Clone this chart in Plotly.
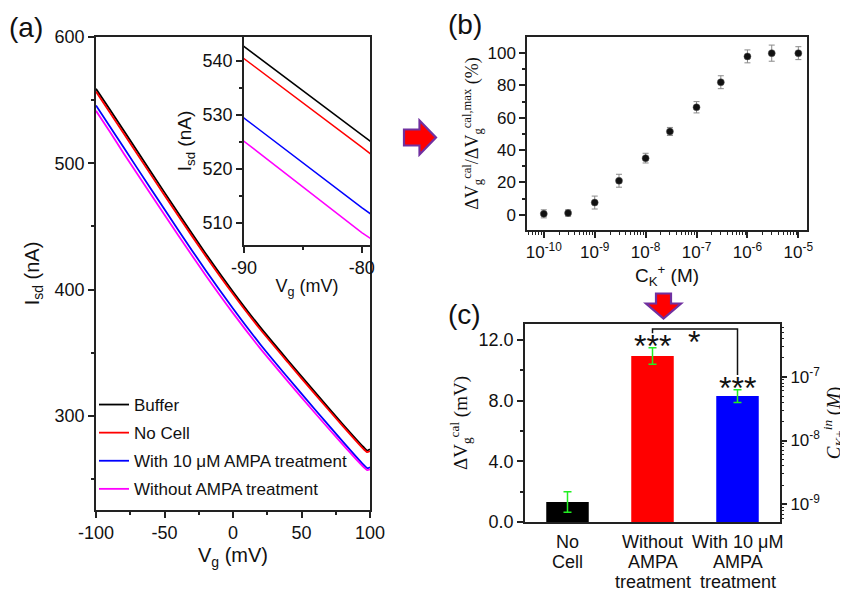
import plotly.graph_objects as go

# page body has an 8px margin on top/left; figure extends to the window's right/bottom edges
OFF = 8
W, H = 848 - OFF, 591 - OFF

# ---------------- data ----------------
vg = [-100, -90, -80, -60, -40, -20, 0, 20, 40, 60, 80, 95, 98, 100]
isd_buffer = [559.0, 542.7, 526.3, 493.3, 460.6, 428.6, 398.3, 370.0, 344.0, 318.5, 293.5, 275.5, 272.5, 273.5]
isd_nocell = [556.8, 540.4, 524.0, 491.0, 458.4, 426.6, 396.5, 368.3, 342.4, 317.0, 292.0, 274.0, 271.2, 272.2]
isd_with = [545.8, 529.4, 512.8, 479.8, 447.2, 415.2, 385.0, 356.5, 330.3, 304.8, 279.7, 261.5, 258.5, 259.3]
isd_without = [541.5, 525.1, 508.2, 475.5, 443.0, 411.3, 381.3, 353.2, 327.3, 302.0, 277.3, 259.7, 257.0, 257.6]

conc = [1e-10, 3e-10, 1e-9, 3e-9, 1e-8, 3e-8, 1e-7, 3e-7, 1e-6, 3e-6, 1e-5]
resp = [0.5, 1.0, 7.5, 21.0, 35.0, 51.5, 66.5, 82.0, 98.0, 100.0, 100.0]
resp_err = [2.5, 2.0, 4.0, 4.0, 3.0, 2.5, 3.5, 4.0, 4.0, 5.0, 4.0]

bar_labels = ["No<br>Cell", "Without<br>AMPA<br>treatment", "With 10 μM<br>AMPA<br>treatment"]
bar_vals = [1.32, 10.94, 8.30]
bar_err = [0.68, 0.55, 0.42]
bar_colors = ["#000000", "#FF0000", "#0000FF"]

main_xticks = [-100, -50, 0, 50, 100]
main_yticks = [300, 400, 500, 600]
inset_xticks = [-90, -80]
inset_yticks = [510, 520, 530, 540]
b_yticks = [0, 20, 40, 60, 80, 100]
c_yticks = [0, 4, 8, 12]

sans = "Liberation Sans, Arial, sans-serif"
serif = "Liberation Serif, Times New Roman, serif"


def px(x):
    return (x - OFF) / W


def py(y):
    return 1 - (y - OFF) / H


def hy(v):
    return [str(t) for t in v]


fig = go.Figure()

# ---------------- panel (a) main ----------------
names = ["Buffer", "No Cell", "With 10 μM AMPA treatment", "Without AMPA treatment"]
series = [isd_buffer, isd_nocell, isd_with, isd_without]
colors = ["#000000", "#FF0000", "#0000FF", "#FF00FF"]
for i, (n, s, c) in enumerate(zip(names, series, colors)):
    fig.add_trace(go.Scatter(x=vg, y=s, mode="lines", name=n,
                             line=dict(color=c, width=1.8, shape="spline", smoothing=0.6),
                             legendgroup=f"g{i}", xaxis="x", yaxis="y"))
for n, s, c in zip(names, series, colors):
    fig.add_trace(go.Scatter(x=vg, y=s, mode="lines", name=n, line=dict(color=c, width=1.5),
                             xaxis="x2", yaxis="y2", showlegend=False))

# ---------------- panel (b) ----------------
fig.add_trace(go.Scatter(x=conc, y=resp, mode="markers", showlegend=False,
                         marker=dict(color="#111111", size=7, line=dict(color="#555555", width=0.5)),
                         error_y=dict(type="data", array=resp_err, color="#8a8a8a", thickness=1, width=3),
                         xaxis="x3", yaxis="y3"))

# ---------------- panel (c) ----------------
fig.add_trace(go.Bar(x=[0, 1, 2], y=bar_vals, width=0.5, marker=dict(color=bar_colors, line=dict(width=0)),
                     error_y=dict(type="data", array=bar_err, color="#22EE22", thickness=1.5, width=4),
                     showlegend=False, xaxis="x4", yaxis="y4"))
fig.add_trace(go.Scatter(x=[None], y=[None], showlegend=False, hoverinfo="skip",
                         xaxis="x4", yaxis="y5"))

axis_common = dict(showline=True, linecolor="#222222", linewidth=1.5, mirror=True, showgrid=False,
                   zeroline=False, ticks="outside", ticklen=6, tickwidth=1.5, tickcolor="#222222",
                   automargin=False)

main_minor = dict(ticks="outside", ticklen=3, tickwidth=1.5, tickcolor="#222222")

log_minor_b = [k * 10.0 ** e for e in range(-11, -4) for k in range(2, 10)]
log_minor_b = [v for v in log_minor_b if 4.6e-11 < v < 1.5e-5]
log_minor_c = [k * 10.0 ** e for e in range(-10, -5) for k in range(2, 10)]
log_minor_c = [v for v in log_minor_c if 5.2e-10 < v < 6.7e-7]

fig.update_layout(
    width=W, height=H,
    margin=dict(l=0, r=0, t=0, b=0, autoexpand=False),
    paper_bgcolor="white", plot_bgcolor="white",
    font=dict(family=sans, size=18, color="#111111"),
    showlegend=True,
    legend=dict(x=px(94), y=py(387), xanchor="left", yanchor="top", bgcolor="rgba(0,0,0,0)",
                font=dict(size=17, family=sans), tracegroupgap=3, itemwidth=30),
    xaxis=dict(domain=[px(96), px(370)], anchor="y", range=[-100, 100],
               tickvals=main_xticks, ticktext=hy(main_xticks),
               minor=dict(tickvals=[-75, -25, 25, 75], **main_minor),
               title=dict(text="V<sub>g</sub> (mV)", font=dict(size=20), standoff=6), **axis_common),
    yaxis=dict(domain=[py(510), py(37)], anchor="x", range=[225.4, 600],
               tickvals=main_yticks, ticktext=hy(main_yticks),
               minor=dict(tickvals=[250, 350, 450, 550], **main_minor),
               title=dict(text="I<sub>sd</sub> (nA)", font=dict(size=20), standoff=10), **axis_common),
    xaxis2=dict(domain=[px(244), px(370)], anchor="y2", range=[-90, -79.3],
                tickvals=inset_xticks, ticktext=hy(inset_xticks),
                minor=dict(tickvals=[-85], **main_minor),
                title=dict(text="V<sub>g</sub> (mV)", font=dict(size=18), standoff=2), **axis_common),
    yaxis2=dict(domain=[py(245), py(37)], anchor="x2", range=[505.9, 544.4],
                tickvals=inset_yticks, ticktext=hy(inset_yticks),
                minor=dict(tickvals=[515, 525, 535], **main_minor),
                title=dict(text="I<sub>sd</sub> (nA)", font=dict(size=19), standoff=6), **axis_common),
    xaxis3=dict(domain=[px(527), px(807)], anchor="y3", type="log", range=[-10.33, -4.83],
                tickvals=[1e-10, 1e-9, 1e-8, 1e-7, 1e-6, 1e-5],
                ticktext=["10<sup>-10</sup>", "10<sup>-9</sup>", "10<sup>-8</sup>", "10<sup>-7</sup>",
                          "10<sup>-6</sup>", "10<sup>-5</sup>"],
                tickfont=dict(size=17),
                minor=dict(tickvals=log_minor_b, ticks="outside", ticklen=3, tickwidth=1, tickcolor="#222222"),
                title=dict(text="C<sub>K</sub><sup>+</sup> (M)", font=dict(size=19), standoff=4), **axis_common),
    yaxis3=dict(domain=[py(230), py(37)], anchor="x3", range=[-9.5, 110],
                tickvals=b_yticks, ticktext=hy(b_yticks), tickfont=dict(size=17),
                minor=dict(tickvals=[10, 30, 50, 70, 90], **main_minor),
                title=dict(text="ΔV<sub>g</sub><sup>cal</sup>/ΔV<sub>g</sub><sup>cal,max</sup> (%)",
                           font=dict(size=18, family=serif), standoff=4), **axis_common),
    xaxis4=dict(domain=[px(525), px(780)], anchor="y4", range=[-0.5, 2.5],
                tickvals=[0, 1, 2], showticklabels=False, showline=True, linecolor="#222222", linewidth=1.5,
                mirror=True, showgrid=False, zeroline=False, ticks="", automargin=False),
    yaxis4=dict(domain=[py(522), py(324)], anchor="x4", range=[0, 13.05],
                tickvals=c_yticks, ticktext=[f"{v:.1f}" for v in c_yticks],
                minor=dict(tickvals=[2, 6, 10], **main_minor),
                title=dict(text="ΔV<sub>g</sub><sup>cal</sup> (mV)", font=dict(size=19, family=serif), standoff=6),
                **axis_common),
    yaxis5=dict(overlaying="y4", side="right", anchor="x4", type="log", range=[-9.28, -6.17],
                showline=False, showgrid=False, zeroline=False, ticks="outside", ticklen=6, tickwidth=1.5,
                tickcolor="#222222", tickvals=[1e-9, 1e-8, 1e-7], automargin=False,
                ticktext=["10<sup>-9</sup>", "10<sup>-8</sup>", "10<sup>-7</sup>"], tickfont=dict(size=17),
                minor=dict(tickvals=log_minor_c, ticks="outside", ticklen=3, tickwidth=1, tickcolor="#222222"),
                title=dict(text="<i>C</i><sub><i>K</i>+</sub><sup><i>in</i></sup> (<i>M</i>)",
                           font=dict(size=19, family=serif), standoff=6)),
)

# category labels of panel (c), one line each for tight line spacing
line_centres = [542, 562, 582]
for xi, lab in enumerate(bar_labels):
    for li, part in enumerate(lab.split("<br>")):
        fig.add_annotation(text=part, x=xi, y=py(line_centres[li]), xref="x4", yref="paper",
                           showarrow=False, font=dict(size=18, family=sans, color="#111111"),
                           xanchor="center", yanchor="middle")

# panel labels
for lbl, (x, y) in {"(a)": (26, 27), "(b)": (465, 24), "(c)": (465, 314)}.items():
    fig.add_annotation(text=lbl, x=px(x), y=py(y), xref="paper", yref="paper", showarrow=False,
                       font=dict(size=28, family=sans, color="#111111"), xanchor="center", yanchor="middle")


def path(points):
    s = "M " + " L ".join(f"{px(a):.5f},{py(b):.5f}" for a, b in points) + " Z"
    return s


# right arrow between (a) and (b)
fig.add_shape(type="path", xref="paper", yref="paper",
              path=path([(404, 129.5), (419.5, 129.5), (419.5, 120.5), (436, 137.5), (419.5, 154.5),
                         (419.5, 145.5), (404, 145.5)]),
              fillcolor="#FF0000", line=dict(color="#7030A0", width=2.2))
# down arrow between (b) and (c)
fig.add_shape(type="path", xref="paper", yref="paper",
              path=path([(656, 293.5), (671, 293.5), (671, 303.5), (681, 303.5), (663.5, 318.5),
                         (646, 303.5), (656, 303.5)]),
              fillcolor="#FF0000", line=dict(color="#7030A0", width=2.2))

# significance bracket
fig.add_shape(type="path", xref="x4", yref="y4",
              path="M 1,12.44 L 1,12.72 L 2,12.72 L 2,9.69",
              line=dict(color="#111111", width=1.5))
for x, y, t in [(1, 11.6, "***"), (2, 8.85, "***"), (1.49, 11.85, "*")]:
    fig.add_annotation(text=t, x=x, y=y, xref="x4", yref="y4", showarrow=False,
                       font=dict(size=32, family=sans, color="#111111"), xanchor="center", yanchor="middle")

fig.write_html("out.html")
